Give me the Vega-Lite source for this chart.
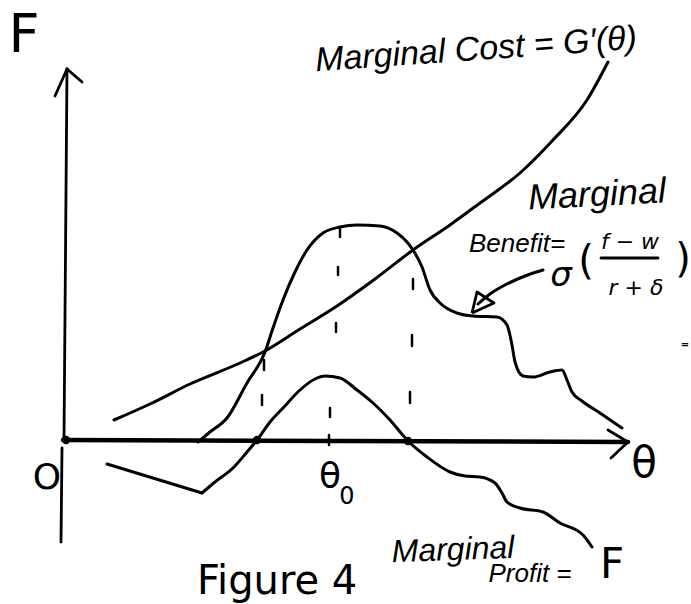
{
  "$schema": "https://vega.github.io/schema/vega-lite/v6.json",
  "width": 691,
  "height": 604,
  "autosize": {"type": "none"},
  "padding": 0,
  "background": "white",
  "config": {"view": {"stroke": null}},
  "datasets": {
    "curves": [
      {"series": "cost", "theta": 4.9, "F": 2.0},
      {"series": "cost", "theta": 8.5, "F": 3.6},
      {"series": "cost", "theta": 12.5, "F": 5.6},
      {"series": "cost", "theta": 17.5, "F": 7.7},
      {"series": "cost", "theta": 19.8, "F": 8.8},
      {"series": "cost", "theta": 23.5, "F": 11.1},
      {"series": "cost", "theta": 27.2, "F": 13.4},
      {"series": "cost", "theta": 31.0, "F": 16.1},
      {"series": "cost", "theta": 34.8, "F": 19.0},
      {"series": "cost", "theta": 38.5, "F": 21.5},
      {"series": "cost", "theta": 41.5, "F": 23.7},
      {"series": "cost", "theta": 45.5, "F": 26.7},
      {"series": "cost", "theta": 48.8, "F": 30.0},
      {"series": "cost", "theta": 52.2, "F": 34.0},
      {"series": "cost", "theta": 54.3, "F": 37.8},
      {"series": "benefit", "theta": 13.3, "F": -0.2},
      {"series": "benefit", "theta": 14.5, "F": 0.8},
      {"series": "benefit", "theta": 16.2, "F": 2.2},
      {"series": "benefit", "theta": 18.2, "F": 5.7},
      {"series": "benefit", "theta": 20.0, "F": 8.8},
      {"series": "benefit", "theta": 20.8, "F": 11.2},
      {"series": "benefit", "theta": 21.8, "F": 14.0},
      {"series": "benefit", "theta": 23.0, "F": 16.8},
      {"series": "benefit", "theta": 24.2, "F": 19.0},
      {"series": "benefit", "theta": 25.8, "F": 20.7},
      {"series": "benefit", "theta": 27.5, "F": 21.3},
      {"series": "benefit", "theta": 29.2, "F": 21.5},
      {"series": "benefit", "theta": 31.5, "F": 21.4},
      {"series": "benefit", "theta": 33.2, "F": 20.7},
      {"series": "benefit", "theta": 34.2, "F": 19.8},
      {"series": "benefit", "theta": 34.8, "F": 19.0},
      {"series": "benefit", "theta": 35.7, "F": 17.3},
      {"series": "benefit", "theta": 36.5, "F": 15.0},
      {"series": "benefit", "theta": 37.5, "F": 13.7},
      {"series": "benefit", "theta": 39.2, "F": 12.7},
      {"series": "benefit", "theta": 40.8, "F": 12.4},
      {"series": "benefit", "theta": 43.2, "F": 12.3},
      {"series": "benefit", "theta": 44.2, "F": 11.5},
      {"series": "benefit", "theta": 44.7, "F": 9.5},
      {"series": "benefit", "theta": 45.0, "F": 7.8},
      {"series": "benefit", "theta": 45.8, "F": 6.4},
      {"series": "benefit", "theta": 46.8, "F": 6.3},
      {"series": "benefit", "theta": 48.5, "F": 6.8},
      {"series": "benefit", "theta": 49.7, "F": 7.0},
      {"series": "benefit", "theta": 50.2, "F": 6.0},
      {"series": "benefit", "theta": 50.7, "F": 4.8},
      {"series": "benefit", "theta": 51.7, "F": 3.9},
      {"series": "benefit", "theta": 53.5, "F": 2.7},
      {"series": "benefit", "theta": 55.7, "F": 1.2},
      {"series": "profit_a", "theta": 4.2, "F": -2.4},
      {"series": "profit_a", "theta": 13.7, "F": -5.3},
      {"series": "profit_b", "theta": 13.7, "F": -5.3},
      {"series": "profit_b", "theta": 15.0, "F": -4.2},
      {"series": "profit_b", "theta": 16.8, "F": -2.8},
      {"series": "profit_b", "theta": 18.2, "F": -1.2},
      {"series": "profit_b", "theta": 19.2, "F": 0.0},
      {"series": "profit_b", "theta": 20.5, "F": 1.8},
      {"series": "profit_b", "theta": 21.8, "F": 3.2},
      {"series": "profit_b", "theta": 23.5, "F": 5.0},
      {"series": "profit_b", "theta": 25.0, "F": 6.1},
      {"series": "profit_b", "theta": 26.0, "F": 6.4},
      {"series": "profit_b", "theta": 27.5, "F": 6.2},
      {"series": "profit_b", "theta": 29.2, "F": 5.0},
      {"series": "profit_b", "theta": 30.8, "F": 3.7},
      {"series": "profit_b", "theta": 32.5, "F": 2.0},
      {"series": "profit_b", "theta": 34.3, "F": -0.1},
      {"series": "profit_b", "theta": 36.2, "F": -1.7},
      {"series": "profit_b", "theta": 38.5, "F": -3.2},
      {"series": "profit_b", "theta": 40.0, "F": -3.6},
      {"series": "profit_b", "theta": 41.5, "F": -3.7},
      {"series": "profit_b", "theta": 43.0, "F": -4.3},
      {"series": "profit_b", "theta": 43.7, "F": -5.3},
      {"series": "profit_b", "theta": 44.2, "F": -6.2},
      {"series": "profit_b", "theta": 45.5, "F": -6.8},
      {"series": "profit_b", "theta": 47.8, "F": -7.2},
      {"series": "profit_b", "theta": 49.5, "F": -8.3},
      {"series": "profit_b", "theta": 51.8, "F": -9.5},
      {"series": "profit_b", "theta": 52.7, "F": -10.7},
      {"series": "pointer", "theta": 47.8, "F": 17.0},
      {"series": "pointer", "theta": 46.0, "F": 16.4},
      {"series": "pointer", "theta": 44.0, "F": 15.5},
      {"series": "pointer", "theta": 42.5, "F": 14.6},
      {"series": "pointer", "theta": 41.3, "F": 13.6}
    ],
    "head": [
      {"i": 0, "theta": 40.7, "F": 12.7},
      {"i": 1, "theta": 41.2, "F": 14.8},
      {"i": 2, "theta": 42.9, "F": 13.7},
      {"i": 3, "theta": 40.7, "F": 12.7}
    ],
    "strokes": [
      {"kind": "xaxis", "theta": -0.2, "F": 0.0, "theta2": 56.3, "F2": -0.2},
      {"kind": "axis", "theta": 54.3, "F": 1.0, "theta2": 56.3, "F2": -0.2},
      {"kind": "axis", "theta": 56.3, "F": -0.2, "theta2": 54.6, "F2": -1.8},
      {"kind": "axis", "theta": -0.1, "F": 0.0, "theta2": 0.2, "F2": 37.1},
      {"kind": "axis", "theta": -1.0, "F": 34.4, "theta2": 0.2, "F2": 37.1},
      {"kind": "axis", "theta": 0.2, "F": 37.1, "theta2": 1.7, "F2": 35.8},
      {"kind": "axis", "theta": -0.3, "F": -0.8, "theta2": -0.4, "F2": -10.2},
      {"kind": "dash", "theta": 19.9, "F": 8.0, "theta2": 19.9, "F2": 7.0},
      {"kind": "dash", "theta": 19.7, "F": 4.5, "theta2": 19.7, "F2": 3.5},
      {"kind": "dash", "theta": 27.5, "F": 21.1, "theta2": 27.5, "F2": 20.3},
      {"kind": "dash", "theta": 27.3, "F": 17.3, "theta2": 27.3, "F2": 16.5},
      {"kind": "dash", "theta": 27.1, "F": 11.7, "theta2": 27.1, "F2": 10.8},
      {"kind": "dash", "theta": 26.5, "F": 3.2, "theta2": 26.5, "F2": 2.3},
      {"kind": "dash", "theta": 26.4, "F": 0.5, "theta2": 26.4, "F2": -0.5},
      {"kind": "dash", "theta": 34.8, "F": 16.1, "theta2": 34.8, "F2": 15.1},
      {"kind": "dash", "theta": 34.7, "F": 10.5, "theta2": 34.7, "F2": 9.4},
      {"kind": "dash", "theta": 34.5, "F": 4.8, "theta2": 34.5, "F2": 3.7},
      {"kind": "axis", "theta": 53.6, "F": 18.2, "theta2": 59.3, "F2": 18.2}
    ],
    "dots": [
      {"theta": 19.2, "F": 0.0},
      {"theta": 34.3, "F": -0.1},
      {"theta": 0.1, "F": 0.0}
    ],
    "labels": [
      {"role": "axisF", "label": "F", "theta": -4.1, "F": 38.8},
      {"role": "origin", "label": "O", "theta": -1.8, "F": -3.8},
      {"role": "axisT", "label": "θ", "theta": 57.9, "F": -2.4},
      {"role": "t0", "label": "θ", "theta": 26.5, "F": -3.7},
      {"role": "sub", "label": "0", "theta": 28.2, "F": -5.7},
      {"role": "cost", "label": "Marginal Cost = G′(θ)", "theta": 41.1, "F": 39.0},
      {"role": "big", "label": "Marginal", "theta": 53.2, "F": 24.5},
      {"role": "mid", "label": "Benefit=", "theta": 45.2, "F": 19.6},
      {"role": "sym", "label": "σ", "theta": 49.6, "F": 16.4},
      {"role": "paren", "label": "(", "theta": 52.1, "F": 17.8},
      {"role": "frac", "label": "f − w", "theta": 56.5, "F": 19.8},
      {"role": "frac", "label": "r + δ", "theta": 57.1, "F": 15.2},
      {"role": "paren", "label": ")", "theta": 61.8, "F": 18.0},
      {"role": "pbig", "label": "Marginal", "theta": 38.8, "F": -11.0},
      {"role": "mid", "label": "Profit =", "theta": 46.5, "F": -13.4},
      {"role": "bigF", "label": "F", "theta": 54.7, "F": -12.5},
      {"role": "speck", "label": "=", "theta": 62.0, "F": 9.5}
    ],
    "caption": [
      {"label": "Figure 4", "theta": 13.2, "F": -16.2}
    ]
  },
  "encoding": {
    "x": {"field": "theta", "type": "quantitative", "scale": {"domain": [-6.5, 62.6], "nice": false, "zero": false}, "axis": null},
    "y": {"field": "F", "type": "quantitative", "scale": {"domain": [-16.4, 44.0], "nice": false, "zero": false}, "axis": null}
  },
  "layer": [
    {
      "data": {"name": "curves"},
      "mark": {"type": "line", "interpolate": "monotone", "strokeWidth": 3, "color": "black", "strokeCap": "round", "strokeJoin": "round"},
      "encoding": {"detail": {"field": "series"}}
    },
    {
      "data": {"name": "head"},
      "mark": {"type": "line", "interpolate": "linear", "strokeWidth": 2.8, "color": "black", "strokeJoin": "round"},
      "encoding": {"order": {"field": "i", "type": "quantitative"}}
    },
    {
      "data": {"name": "strokes"},
      "transform": [{"filter": "datum.kind === 'xaxis'"}],
      "mark": {"type": "rule", "strokeWidth": 4.5, "color": "black", "strokeCap": "round"},
      "encoding": {"x2": {"field": "theta2"}, "y2": {"field": "F2"}}
    },
    {
      "data": {"name": "strokes"},
      "transform": [{"filter": "datum.kind === 'axis'"}],
      "mark": {"type": "rule", "strokeWidth": 2.8, "color": "black", "strokeCap": "round"},
      "encoding": {"x2": {"field": "theta2"}, "y2": {"field": "F2"}}
    },
    {
      "data": {"name": "strokes"},
      "transform": [{"filter": "datum.kind === 'dash'"}],
      "mark": {"type": "rule", "strokeWidth": 2.5, "color": "black", "strokeCap": "round"},
      "encoding": {"x2": {"field": "theta2"}, "y2": {"field": "F2"}}
    },
    {
      "data": {"name": "dots"},
      "mark": {"type": "circle", "size": 70, "color": "black", "opacity": 1}
    },
    {
      "data": {"name": "labels"},
      "transform": [{"filter": "datum.role === 'axisF'"}],
      "mark": {"type": "text", "font": "DejaVu Sans", "fontSize": 54, "align": "center", "baseline": "alphabetic", "color": "black"},
      "encoding": {"text": {"field": "label"}}
    },
    {
      "data": {"name": "labels"},
      "transform": [{"filter": "datum.role === 'origin' || datum.role === 't0'"}],
      "mark": {"type": "text", "font": "DejaVu Sans", "fontSize": 36, "align": "center", "baseline": "middle", "color": "black"},
      "encoding": {"text": {"field": "label"}}
    },
    {
      "data": {"name": "labels"},
      "transform": [{"filter": "datum.role === 'axisT'"}],
      "mark": {"type": "text", "font": "DejaVu Sans", "fontSize": 42, "align": "center", "baseline": "middle", "color": "black"},
      "encoding": {"text": {"field": "label"}}
    },
    {
      "data": {"name": "labels"},
      "transform": [{"filter": "datum.role === 'sub'"}],
      "mark": {"type": "text", "font": "DejaVu Sans", "fontSize": 24, "align": "center", "baseline": "middle", "color": "black"},
      "encoding": {"text": {"field": "label"}}
    },
    {
      "data": {"name": "labels"},
      "transform": [{"filter": "datum.role === 'cost'"}],
      "mark": {"type": "text", "font": "Liberation Sans", "fontStyle": "italic", "fontSize": 34, "angle": -4, "align": "center", "baseline": "middle", "color": "black"},
      "encoding": {"text": {"field": "label"}}
    },
    {
      "data": {"name": "labels"},
      "transform": [{"filter": "datum.role === 'big'"}],
      "mark": {"type": "text", "font": "Liberation Sans", "fontStyle": "italic", "fontSize": 36, "angle": -3, "align": "center", "baseline": "middle", "color": "black"},
      "encoding": {"text": {"field": "label"}}
    },
    {
      "data": {"name": "labels"},
      "transform": [{"filter": "datum.role === 'pbig'"}],
      "mark": {"type": "text", "font": "Liberation Sans", "fontStyle": "italic", "fontSize": 32, "angle": -2, "align": "center", "baseline": "middle", "color": "black"},
      "encoding": {"text": {"field": "label"}}
    },
    {
      "data": {"name": "labels"},
      "transform": [{"filter": "datum.role === 'mid'"}],
      "mark": {"type": "text", "font": "Liberation Sans", "fontStyle": "italic", "fontSize": 26, "align": "center", "baseline": "middle", "color": "black"},
      "encoding": {"text": {"field": "label"}}
    },
    {
      "data": {"name": "labels"},
      "transform": [{"filter": "datum.role === 'sym'"}],
      "mark": {"type": "text", "font": "DejaVu Sans", "fontStyle": "italic", "fontSize": 34, "align": "center", "baseline": "middle", "color": "black"},
      "encoding": {"text": {"field": "label"}}
    },
    {
      "data": {"name": "labels"},
      "transform": [{"filter": "datum.role === 'paren'"}],
      "mark": {"type": "text", "font": "DejaVu Sans", "fontSize": 40, "align": "center", "baseline": "middle", "color": "black"},
      "encoding": {"text": {"field": "label"}}
    },
    {
      "data": {"name": "labels"},
      "transform": [{"filter": "datum.role === 'frac'"}],
      "mark": {"type": "text", "font": "DejaVu Sans", "fontStyle": "italic", "fontSize": 22, "align": "center", "baseline": "middle", "color": "black"},
      "encoding": {"text": {"field": "label"}}
    },
    {
      "data": {"name": "labels"},
      "transform": [{"filter": "datum.role === 'bigF'"}],
      "mark": {"type": "text", "font": "DejaVu Sans", "fontSize": 42, "align": "center", "baseline": "middle", "color": "black"},
      "encoding": {"text": {"field": "label"}}
    },
    {
      "data": {"name": "labels"},
      "transform": [{"filter": "datum.role === 'speck'"}],
      "mark": {"type": "text", "font": "DejaVu Sans", "fontSize": 10, "fontWeight": "bold", "align": "center", "baseline": "middle", "color": "black"},
      "encoding": {"text": {"field": "label"}}
    },
    {
      "data": {"name": "caption"},
      "mark": {"type": "text", "font": "DejaVu Sans", "fontSize": 40, "align": "left", "baseline": "bottom", "color": "black"},
      "encoding": {"text": {"field": "label"}}
    }
  ]
}
